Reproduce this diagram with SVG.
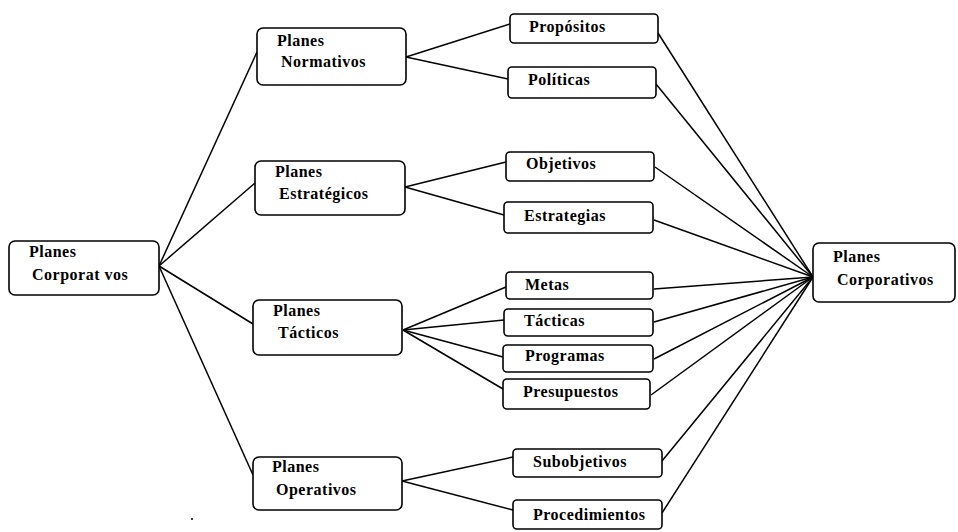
<svg xmlns="http://www.w3.org/2000/svg" width="958" height="532" viewBox="0 0 958 532">
<style>
  .box { fill: #fff; stroke: #000; stroke-width: 1.6; }
  .t { font-family: "Liberation Serif", "Times New Roman", serif; font-weight: bold; font-size: 16px; letter-spacing: 0.5px; fill: #000; }
  .c line { stroke: #000; stroke-width: 1.5; }
</style>
<rect width="958" height="532" fill="#fff"/>
<g id="connectors" class="c">
  <line x1="159" y1="266" x2="257" y2="52"/>
  <line x1="159" y1="266" x2="255" y2="183"/>
  <line x1="159" y1="266" x2="253" y2="324"/>
  <line x1="159" y1="266" x2="253" y2="475"/>
  <line x1="406" y1="57" x2="510" y2="24"/>
  <line x1="406" y1="57" x2="508" y2="79"/>
  <line x1="405" y1="187" x2="506" y2="162"/>
  <line x1="405" y1="187" x2="504" y2="215"/>
  <line x1="403" y1="330" x2="506" y2="287"/>
  <line x1="403" y1="330" x2="504" y2="320"/>
  <line x1="403" y1="330" x2="503" y2="357"/>
  <line x1="403" y1="330" x2="503" y2="389"/>
  <line x1="402" y1="481" x2="513" y2="457"/>
  <line x1="402" y1="481" x2="513" y2="510"/>
  <line x1="658" y1="33" x2="813" y2="277"/>
  <line x1="656" y1="84" x2="813" y2="277"/>
  <line x1="655" y1="167" x2="813" y2="277"/>
  <line x1="654" y1="220" x2="813" y2="277"/>
  <line x1="654" y1="289" x2="813" y2="277"/>
  <line x1="654" y1="322" x2="813" y2="277"/>
  <line x1="654" y1="359" x2="813" y2="277"/>
  <line x1="651" y1="395" x2="813" y2="277"/>
  <line x1="662" y1="461" x2="813" y2="277"/>
  <line x1="662" y1="513" x2="813" y2="277"/>
</g>
<g id="corp-left">
  <rect class="box" x="9" y="241" width="150" height="54" rx="6"/>
  <text class="t" x="29" y="257">Planes</text>
  <text class="t" x="32" y="280">Corporat vos</text>
</g>
<g id="normativos">
  <rect class="box" x="257" y="28" width="149" height="57" rx="6"/>
  <text class="t" x="277" y="46">Planes</text>
  <text class="t" x="281" y="67">Normativos</text>
</g>
<g id="estrategicos">
  <rect class="box" x="255" y="161" width="150" height="54" rx="6"/>
  <text class="t" x="275" y="177">Planes</text>
  <text class="t" x="279" y="199">Estratégicos</text>
</g>
<g id="tacticos">
  <rect class="box" x="253" y="300" width="149" height="55" rx="6"/>
  <text class="t" x="273" y="316">Planes</text>
  <text class="t" x="278" y="338">Tácticos</text>
</g>
<g id="operativos">
  <rect class="box" x="253" y="457" width="149" height="53" rx="6"/>
  <text class="t" x="272" y="472">Planes</text>
  <text class="t" x="276" y="495">Operativos</text>
</g>
<g id="propositos">
  <rect class="box" x="510" y="14" width="148" height="29" rx="4"/>
  <text class="t" x="529" y="32">Propósitos</text>
</g>
<g id="politicas">
  <rect class="box" x="508" y="67" width="148" height="31" rx="4"/>
  <text class="t" x="528" y="85">Políticas</text>
</g>
<g id="objetivos">
  <rect class="box" x="506" y="152" width="148" height="29" rx="4"/>
  <text class="t" x="526" y="169">Objetivos</text>
</g>
<g id="estrategias">
  <rect class="box" x="504" y="202" width="149" height="31" rx="4"/>
  <text class="t" x="524" y="221">Estrategias</text>
</g>
<g id="metas">
  <rect class="box" x="506" y="272" width="147" height="27" rx="4"/>
  <text class="t" x="525" y="290">Metas</text>
</g>
<g id="tacticas">
  <rect class="box" x="504" y="309" width="149" height="27" rx="4"/>
  <text class="t" x="524" y="326">Tácticas</text>
</g>
<g id="programas">
  <rect class="box" x="503" y="345" width="150" height="27" rx="4"/>
  <text class="t" x="525" y="361">Programas</text>
</g>
<g id="presupuestos">
  <rect class="box" x="503" y="379" width="147" height="30" rx="4"/>
  <text class="t" x="523" y="397">Presupuestos</text>
</g>
<g id="subobjetivos">
  <rect class="box" x="513" y="449" width="149" height="28" rx="4"/>
  <text class="t" x="533" y="467">Subobjetivos</text>
</g>
<g id="procedimientos">
  <rect class="box" x="513" y="500" width="149" height="29" rx="4"/>
  <text class="t" x="533" y="520">Procedimientos</text>
</g>
<g id="corp-right">
  <rect class="box" x="813" y="243" width="142" height="59" rx="6"/>
  <text class="t" x="833" y="262">Planes</text>
  <text class="t" x="837" y="285">Corporativos</text>
</g>
<circle cx="192" cy="519" r="1" fill="#000"/>
</svg>
